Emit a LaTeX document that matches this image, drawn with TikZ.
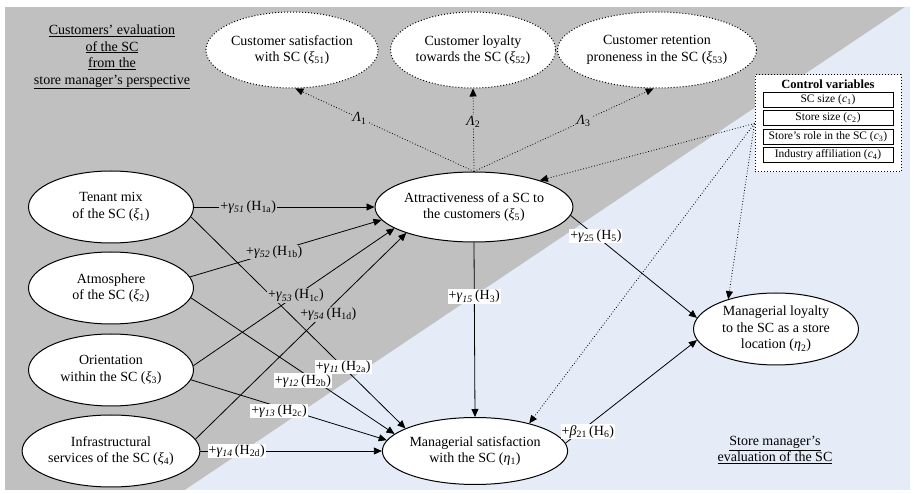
\documentclass[tikz,border=0pt]{standalone}
\usepackage{fontspec}
\setmainfont{Liberation Serif}
\usepackage{xcolor}
\usepackage{tikz}
\usetikzlibrary{arrows.meta}
\usetikzlibrary{shapes.geometric}
\definecolor{bggray}{RGB}{192,192,192}
\definecolor{bgblue}{RGB}{230,236,247}
\newcommand*{\gpath}[2]{+\textit{γ}\textsubscript{\textit{#1}}\,(H\textsubscript{#2})}
\tikzstyle{latentnode}=[black, draw=black, line width=1pt, shape=ellipse, fill=white, minimum width=165pt, minimum height=72pt, inner sep=0pt, align=center, font=\fontsize{14}{16.5}\selectfont]
\tikzstyle{custnode}=[latentnode, dotted, minimum height=76pt]
\tikzstyle{ctrlbox}=[draw=black, dotted, line width=1pt, fill=white, minimum width=146pt, minimum height=97pt, inner sep=0pt]
\tikzstyle{ctrlitem}=[draw=black, line width=0.8pt, fill=white, minimum width=130pt, minimum height=15pt, inner sep=0pt, font=\fontsize{11.5}{13}\selectfont]
\tikzstyle{effect}=[-{Triangle[length=8pt, width=7pt]}, line width=0.8pt, color=black]
\tikzstyle{loading}=[effect, dotted]
\tikzstyle{onwhite}=[fill=white, inner sep=1pt, font=\fontsize{14}{16}\selectfont]
\tikzstyle{ongray}=[onwhite, fill=bggray]
\tikzstyle{areatitle}=[align=center, font=\fontsize{14}{16.5}\selectfont]

\begin{document}
\begin{tikzpicture}[x=1pt, y=-1pt]
\useasboundingbox (0,0) rectangle (914,494);
\fill [bggray] (5,7) rectangle (910,490);
\fill [bgblue] (905,7) -- (910,7) -- (910,490) -- (185,490) -- cycle;

\node [areatitle] (custview) at (112,57) {\underline{Customers’ evaluation}\\\underline{of the SC}\\\underline{from the}\\\underline{store manager’s perspective}};
\node [areatitle] (mgrview) at (775,450) {\underline{Store manager’s}\\\underline{evaluation of the SC}};

\node [custnode] (xi51) at (292,50) {Customer satisfaction\\with SC (\textit{ξ}\textsubscript{51})};
\node [custnode] (xi52) at (473,50) {Customer loyalty\\towards the SC (\textit{ξ}\textsubscript{52})};
\node [custnode] (xi53) at (657,50) {Customer retention\\proneness in the SC (\textit{ξ}\textsubscript{53})};

\node [latentnode] (xi1) at (111,207) {Tenant mix\\of the SC (\textit{ξ}\textsubscript{1})};
\node [latentnode] (xi2) at (111,288) {Atmosphere\\of the SC (\textit{ξ}\textsubscript{2})};
\node [latentnode] (xi3) at (111,370) {Orientation\\within the SC (\textit{ξ}\textsubscript{3})};
\node [latentnode] (xi4) at (111,451) {Infrastructural\\services of the SC (\textit{ξ}\textsubscript{4})};
\node [latentnode, minimum height=70pt] (xi5) at (474,207) {Attractiveness of a SC to\\the customers (\textit{ξ}\textsubscript{5})};
\node [latentnode, minimum height=67pt] (eta1) at (475,451) {Managerial satisfaction\\with the SC (\textit{η}\textsubscript{1})};
\node [latentnode] (eta2) at (776,329) {Managerial loyalty\\to the SC as a store\\location (\textit{η}\textsubscript{2})};

\node [ctrlbox] (ctrl) at (828,123.5) {};
\node [font=\bfseries\fontsize{12.5}{14}\selectfont] (ctrltitle) at (828,84) {Control variables};
\node [ctrlitem] (c1) at (828,99.5) {SC size (\textit{c}\textsubscript{1})};
\node [ctrlitem] (c2) at (828,118) {Store size (\textit{c}\textsubscript{2})};
\node [ctrlitem] (c3) at (828,136.5) {Store’s role in the SC (\textit{c}\textsubscript{3})};
\node [ctrlitem] (c4) at (828,155) {Industry affiliation (\textit{c}\textsubscript{4})};

\draw [loading] (xi5.north) -- node [ongray, pos=0.64] (lam1) {\textit{Λ}\textsubscript{1}} (xi51.-85);
\draw [loading] (xi5.north) -- node [ongray, pos=0.6] (lam2) {\textit{Λ}\textsubscript{2}} (xi52.south);
\draw [loading] (xi5.north) -- node [ongray, pos=0.61] (lam3) {\textit{Λ}\textsubscript{3}} (xi53.-95);

\draw [loading] (ctrl.west) -- (xi5.22);
\draw [loading] (ctrl.west) -- (eta1.27);
\draw [loading] (ctrl.west) -- (eta2.148);

\draw [effect] (xi1.-7) -- node [onwhite, pos=0.71] (h2a) {\gpath{11}{2a}} (eta1.162);
\draw [effect] (xi2.-7) -- node [onwhite, pos=0.55, yshift=-8pt] (h2b) {\gpath{12}{2b}} (eta1.168);
\draw [effect] (xi3.-7) -- node [onwhite, pos=0.45, yshift=-4pt] (h2c) {\gpath{13}{2c}} (eta1.173);
\draw [effect] (xi4.east) -- node [onwhite, pos=0.2] (h2d) {\gpath{14}{2d}} (eta1.west);

\draw [effect] (xi1.east) -- node [ongray, pos=0.3] (h1a) {\gpath{51}{1a}} (xi5.west);
\draw [effect] (xi2.8) -- node [ongray, pos=0.44] (h1b) {\gpath{52}{1b}} (xi5.188);
\draw [effect] (xi3.3) -- node [ongray, pos=0.51] (h1c) {\gpath{53}{1c}} (xi5.195);
\draw [effect] (xi4.8) -- node [ongray, pos=0.63, yshift=-5pt] (h1d) {\gpath{54}{1d}} (xi5.201);

\draw [effect] (xi5.south) -- node [onwhite, pos=0.31] (h3) {+\textit{γ}\textsubscript{\textit{15}}\,(H\textsubscript{3})} (eta1.north);
\draw [effect] (xi5.-5) -- node [onwhite, pos=0.2] (h5) {+\textit{γ}\textsubscript{25}\,(H\textsubscript{5})} (eta2.172);
\draw [effect] (eta1.5) -- node [onwhite, pos=0.17, yshift=-6pt] (h6) {+\textit{β}\textsubscript{21}\,(H\textsubscript{6})} (eta2.188);
\end{tikzpicture}
\end{document}
